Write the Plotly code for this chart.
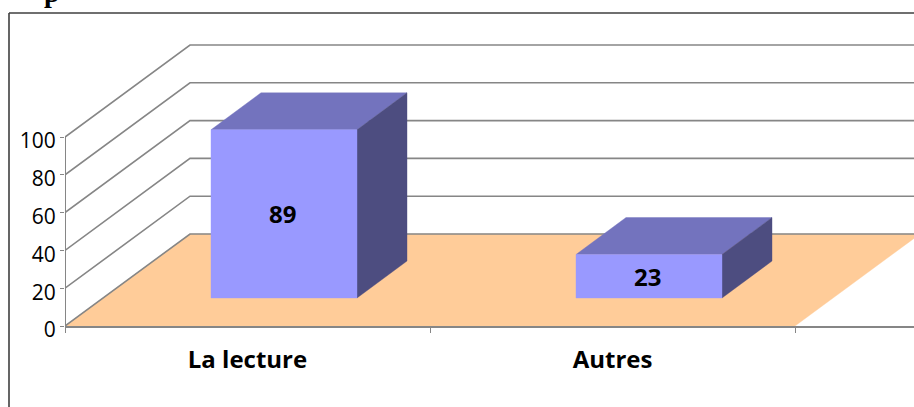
import plotly.graph_objects as go

categories = ["La lecture", "Autres"]
values = [89, 23]
y_ticks = [0, 20, 40, 60, 80, 100]

# oblique projection, in axis units
WALL_DX = 125 / 365
WALL_DY = 92 / 1.89
FRONT_DX = 0.1
FRONT_DY = 28 / 1.89
BAR_DX = 50 / 365
BAR_DY = 37 / 1.89
BAR_W = 0.4
N = len(categories)

GRID = "#868686"
FONT = "Open Sans"
fig = go.Figure()


def poly(xs, ys, fill, line=None):
    fig.add_trace(go.Scatter(
        x=xs + xs[:1], y=ys + ys[:1], mode="lines", fill="toself", fillcolor=fill,
        line=dict(color=line or fill, width=0.4), hoverinfo="skip", showlegend=False))


# floor
poly([0, N, N + WALL_DX, WALL_DX], [0, 0, WALL_DY, WALL_DY], "#FFCC99")

# wall gridlines
for v in y_ticks:
    fig.add_trace(go.Scatter(
        x=[0, WALL_DX, N + WALL_DX], y=[v, v + WALL_DY, v + WALL_DY], mode="lines",
        line=dict(color=GRID, width=1.6), hoverinfo="skip", showlegend=False))

# value axis line stops at the top tick
fig.add_trace(go.Scatter(
    x=[0, 0], y=[y_ticks[0], y_ticks[-1]], mode="lines", cliponaxis=False,
    line=dict(color=GRID, width=2), hoverinfo="skip", showlegend=False))

# bars
for i, v in enumerate(values):
    x0 = i + 0.5 - BAR_W / 2 + FRONT_DX
    x1 = x0 + BAR_W
    y0 = FRONT_DY
    y1 = y0 + v
    poly([x0, x1, x1 + BAR_DX, x0 + BAR_DX], [y1, y1, y1 + BAR_DY, y1 + BAR_DY], "#7373BE")
    poly([x1, x1 + BAR_DX, x1 + BAR_DX, x1], [y0, y0 + BAR_DY, y1 + BAR_DY, y1], "#4D4D80")
    poly([x0, x1, x1, x0], [y0, y0, y1, y1], "#9999FF")
    fig.add_annotation(
        x=(x0 + x1) / 2, y=(y0 + y1) / 2, text=str(v), showarrow=False, yshift=0, xshift=-2,
        font=dict(family=FONT, size=24, color="#000000", weight="bold"))

fig.update_layout(
    width=914, height=407, autosize=False,
    margin=dict(l=65, r=0, t=44, b=81),
    paper_bgcolor="white", plot_bgcolor="rgba(0,0,0,0)",
    xaxis=dict(
        range=[0, 849 / 365], showgrid=False, zeroline=False, showline=True,
        linecolor=GRID, linewidth=2,
        tickmode="array", tickvals=[i + 0.5 for i in range(N)], ticktext=categories,
        ticks="", ticklabelstandoff=11,
        tickfont=dict(family=FONT, size=24, color="#000000", weight="bold"),
        minor=dict(tickmode="array", tickvals=list(range(N + 1)), ticks="outside",
                   ticklen=5, tickwidth=1, tickcolor=GRID),
    ),
    yaxis=dict(
        range=[0, 282 / 1.89], showgrid=False, zeroline=False, showline=False,
        tickmode="array", tickvals=y_ticks, ticks="outside", ticklen=4,
        tickcolor=GRID, tickwidth=1, ticklabelshift=4,
        tickfont=dict(family=FONT, size=21, color="#000000"),
    ),
    shapes=[
        dict(type="line", xref="paper", yref="paper", x0=-56 / 849, x1=849 / 849 + 0.01,
             y0=(407 - 81 - 13) / 282, y1=(407 - 81 - 13) / 282,
             line=dict(color="#3F3F3F", width=1.6)),
        dict(type="line", xref="paper", yref="paper", x0=-56 / 849, x1=-56 / 849,
             y0=-0.3, y1=(407 - 81 - 13) / 282,
             line=dict(color="#3F3F3F", width=1.6)),
    ],
)
fig.add_annotation(
    text="<b>p</b>", xref="paper", yref="paper", x=-13 / 849, y=(407 - 81) / 282, yshift=-10,
    xanchor="center", yanchor="bottom", showarrow=False,
    font=dict(family="Liberation Serif", size=28, color="#000000"))

fig.write_html("out.html", config={"displayModeBar": False},
               post_script="document.body.style.margin='0';document.documentElement.style.overflow='hidden';")
